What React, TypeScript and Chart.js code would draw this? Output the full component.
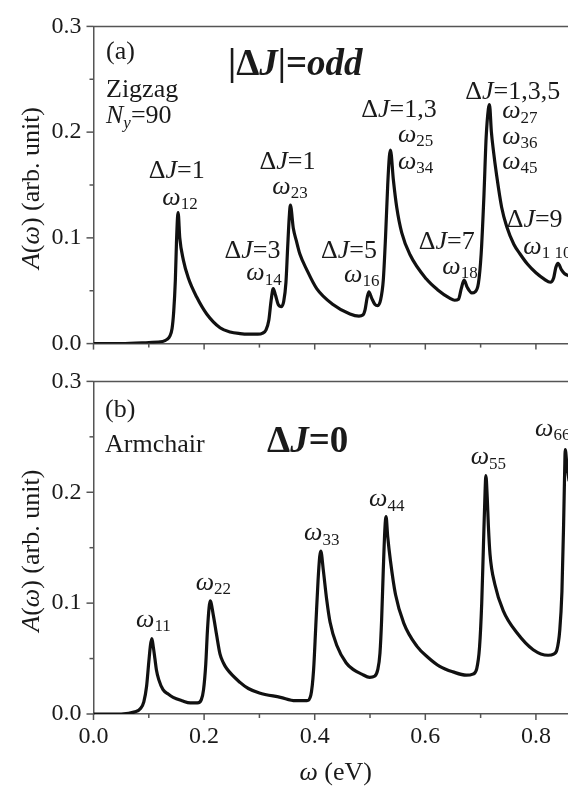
import React, { useEffect, useRef } from "react";
import { Chart, registerables } from "chart.js";
Chart.register(...registerables);

// ---------------- data ----------------
const X_MAX = 0.858;
const Y_MAX = 0.3;

const xMajorTicks = [0, 0.2, 0.4, 0.6, 0.8];
const xMinorTicks = [0.1, 0.3, 0.5, 0.7];
const yMajorTicks = [0, 0.1, 0.2, 0.3];
const yMinorTicks = [0.05, 0.15, 0.25];

// panel (a) zigzag, |ΔJ| = odd
const omegaA = [
  0.0, 0.05, 0.1, 0.125, 0.133, 0.138, 0.142, 0.145, 0.148, 0.15, 0.152, 0.153,
  0.156, 0.1625, 0.1715, 0.1866, 0.2047, 0.2288, 0.247, 0.265, 0.28,
  0.297, 0.306, 0.312, 0.317, 0.321, 0.325, 0.329, 0.334, 0.34, 0.344, 0.348, 0.351,
  0.354, 0.356, 0.3613, 0.3674, 0.373, 0.3855, 0.4036, 0.433, 0.4638,
  0.48, 0.487, 0.491, 0.495, 0.498, 0.503, 0.509, 0.514, 0.519, 0.524, 0.528,
  0.532, 0.535, 0.537, 0.5422, 0.5483, 0.5573, 0.5724, 0.602, 0.622, 0.644,
  0.653, 0.66, 0.665, 0.67, 0.676, 0.684, 0.69, 0.696, 0.701, 0.706, 0.71, 0.714,
  0.716, 0.7195, 0.723, 0.729, 0.738, 0.747, 0.76, 0.771, 0.785, 0.8, 0.815, 0.826,
  0.832, 0.836, 0.84, 0.846, 0.852, 0.86,
];
const valueA = [
  0.0, 0.0, 0.001, 0.002, 0.004, 0.007, 0.014, 0.03, 0.06, 0.095, 0.12, 0.124,
  0.1, 0.079, 0.062, 0.044, 0.028, 0.015, 0.011, 0.0095, 0.009,
  0.009, 0.01, 0.013, 0.022, 0.04, 0.052, 0.046, 0.037, 0.035, 0.04, 0.058, 0.09,
  0.12, 0.131, 0.109, 0.096, 0.085, 0.07, 0.052, 0.037, 0.028,
  0.026, 0.027, 0.032, 0.044, 0.049, 0.043, 0.037, 0.036, 0.041, 0.06, 0.1,
  0.15, 0.177, 0.183, 0.155, 0.129, 0.105, 0.084, 0.061, 0.051, 0.043,
  0.041, 0.042, 0.052, 0.06, 0.053, 0.048, 0.049, 0.057, 0.085, 0.14, 0.195, 0.222,
  0.226, 0.2, 0.183, 0.159, 0.129, 0.111, 0.094, 0.085, 0.075, 0.067, 0.061, 0.058,
  0.062, 0.072, 0.076, 0.07, 0.066, 0.064,
];

// panel (b) armchair, ΔJ = 0
const omegaB = [
  0.0, 0.05, 0.075, 0.085, 0.091, 0.096, 0.1, 0.103, 0.1055, 0.108, 0.111, 0.1137,
  0.118, 0.1257, 0.135, 0.144, 0.16, 0.175, 0.188, 0.195, 0.199, 0.203, 0.206, 0.209,
  0.211, 0.2167, 0.2227, 0.2288, 0.235, 0.2408, 0.2649, 0.28, 0.3, 0.338, 0.365, 0.386,
  0.393, 0.398, 0.402, 0.406, 0.409, 0.411, 0.4155, 0.4217, 0.4277, 0.4398, 0.457,
  0.47, 0.485, 0.4995, 0.508, 0.514, 0.518, 0.521, 0.524, 0.527, 0.529, 0.532, 0.537,
  0.546, 0.561, 0.585, 0.605, 0.626, 0.65, 0.674, 0.686, 0.693, 0.698, 0.702, 0.705,
  0.708, 0.7095, 0.712, 0.714, 0.717, 0.7257, 0.741, 0.766, 0.795, 0.822, 0.832, 0.838,
  0.843, 0.847, 0.85, 0.852, 0.853, 0.856, 0.86,
];
const valueB = [
  0.0, 0.0, 0.002, 0.005, 0.011, 0.025, 0.047, 0.062, 0.068, 0.061, 0.05, 0.04,
  0.031, 0.022, 0.018, 0.015, 0.012, 0.01, 0.01, 0.013, 0.022, 0.045, 0.075, 0.096,
  0.102, 0.089, 0.071, 0.054, 0.046, 0.041, 0.0285, 0.023, 0.019, 0.015, 0.012, 0.012,
  0.017, 0.04, 0.08, 0.12, 0.142, 0.147, 0.13, 0.103, 0.083, 0.062, 0.046,
  0.04, 0.036, 0.033, 0.034, 0.04, 0.055, 0.085, 0.13, 0.168, 0.178, 0.16, 0.138,
  0.108, 0.082, 0.061, 0.051, 0.043, 0.038, 0.035, 0.036, 0.041, 0.06, 0.1, 0.15,
  0.2, 0.215, 0.195, 0.17, 0.144, 0.117, 0.093, 0.073, 0.058, 0.053, 0.054, 0.058,
  0.075, 0.11, 0.17, 0.22, 0.2385, 0.225, 0.21,
];

// ---------------- text ----------------
type Run = { t: string; s?: "i" | "b" | "bi"; sub?: boolean };
type Note = { x: number; y: number; align: "left" | "center"; size: number; runs: Run[] };

const dJ = (rest: string): Run[] => [{ t: "Δ" }, { t: "J", s: "i" }, { t: "=" + rest }];
const om = (sub: string): Run[] => [{ t: "ω", s: "i" }, { t: sub, sub: true }];

const notesA: Note[] = [
  { x: 0.0226, y: 0.2689, align: "left", size: 26, runs: [{ t: "(a)" }] },
  { x: 0.0226, y: 0.2333, align: "left", size: 26, runs: [{ t: "Zigzag" }] },
  { x: 0.0226, y: 0.2084, align: "left", size: 26, runs: [{ t: "N", s: "i" }, { t: "y", s: "i", sub: true }, { t: "=90" }] },
  { x: 0.2432, y: 0.2538, align: "left", size: 37, runs: [{ t: "|Δ", s: "b" }, { t: "J", s: "bi" }, { t: "|=", s: "b" }, { t: "odd", s: "bi" }] },
  { x: 0.1504, y: 0.1569, align: "center", size: 26, runs: dJ("1") },
  { x: 0.1564, y: 0.1311, align: "center", size: 26, runs: om("12") },
  { x: 0.3508, y: 0.1652, align: "center", size: 26, runs: dJ("1") },
  { x: 0.3553, y: 0.1418, align: "center", size: 26, runs: om("23") },
  { x: 0.2875, y: 0.0807, align: "center", size: 26, runs: dJ("3") },
  { x: 0.3083, y: 0.060, align: "center", size: 26, runs: om("14") },
  { x: 0.462, y: 0.0807, align: "center", size: 26, runs: dJ("5") },
  { x: 0.485, y: 0.0585, align: "center", size: 26, runs: om("16") },
  { x: 0.6387, y: 0.0896, align: "center", size: 26, runs: dJ("7") },
  { x: 0.6627, y: 0.0662, align: "center", size: 26, runs: om("18") },
  { x: 0.7471, y: 0.1107, align: "left", size: 26, runs: dJ("9") },
  { x: 0.7772, y: 0.0852, align: "left", size: 26, runs: om("1 10") },
  { x: 0.5524, y: 0.214, align: "center", size: 26, runs: dJ("1,3") },
  { x: 0.5506, y: 0.1907, align: "left", size: 26, runs: om("25") },
  { x: 0.5506, y: 0.1652, align: "left", size: 26, runs: om("34") },
  { x: 0.6724, y: 0.2318, align: "left", size: 26, runs: dJ("1,3,5") },
  { x: 0.7391, y: 0.2129, align: "left", size: 26, runs: om("27") },
  { x: 0.7391, y: 0.1889, align: "left", size: 26, runs: om("36") },
  { x: 0.7391, y: 0.1652, align: "left", size: 26, runs: om("45") },
];

const notesB: Note[] = [
  { x: 0.0208, y: 0.2683, align: "left", size: 26, runs: [{ t: "(b)" }] },
  { x: 0.0208, y: 0.2365, align: "left", size: 26, runs: [{ t: "Armchair" }] },
  { x: 0.3137, y: 0.2365, align: "left", size: 37, runs: [{ t: "Δ", s: "b" }, { t: "J", s: "bi" }, { t: "=0", s: "b" }] },
  { x: 0.7984, y: 0.2507, align: "left", size: 26, runs: om("66") },
  { x: 0.714, y: 0.2251, align: "center", size: 26, runs: om("55") },
  { x: 0.5302, y: 0.1874, align: "center", size: 26, runs: om("44") },
  { x: 0.4127, y: 0.1565, align: "center", size: 26, runs: om("33") },
  { x: 0.2168, y: 0.1121, align: "center", size: 26, runs: om("22") },
  { x: 0.1083, y: 0.0786, align: "center", size: 26, runs: om("11") },
];

const yTitleRuns: Run[] = [{ t: "A", s: "i" }, { t: "(" }, { t: "ω", s: "i" }, { t: ") (arb. unit)" }];
const xTitleRuns: Run[] = [{ t: "ω", s: "i" }, { t: " (eV)" }];

// ---------------- styles ----------------
const FAMILY = '"Liberation Serif", "Times New Roman", serif';
const AXIS_COLOR = "#555";
const TEXT_COLOR = "#1a1a1a";
const LINE_COLOR = "#111";

function fontFor(r: Run, size: number) {
  const st = r.s === "i" ? "italic " : r.s === "b" ? "bold " : r.s === "bi" ? "italic bold " : "";
  const sz = r.sub ? Math.round(size * 0.64) : size;
  return `${st}${sz}px ${FAMILY}`;
}

function drawRuns(ctx: CanvasRenderingContext2D, runs: Run[], x: number, y: number, size: number, align: string) {
  let total = 0;
  const widths = runs.map((r) => {
    ctx.font = fontFor(r, size);
    const w = ctx.measureText(r.t).width;
    total += w;
    return w;
  });
  let cx = align === "center" ? x - total / 2 : x;
  ctx.textAlign = "left";
  ctx.textBaseline = "alphabetic";
  runs.forEach((r, i) => {
    ctx.font = fontFor(r, size);
    ctx.fillText(r.t, cx, r.sub ? y + size * 0.17 : y);
    cx += widths[i];
  });
}

const panelPlugin = {
  id: "panelDeco",
  afterDatasetsDraw(chart: any, _args: any, opts: any) {
    const { ctx, scales } = chart;
    ctx.save();
    ctx.fillStyle = TEXT_COLOR;
    (opts.notes as Note[]).forEach((n) => {
      drawRuns(ctx, n.runs, scales.x.getPixelForValue(n.x), scales.y.getPixelForValue(n.y), n.size, n.align);
    });
    ctx.restore();
  },
  afterDraw(chart: any, _args: any, opts: any) {
    const { ctx, chartArea, scales } = chart;
    const { left, top, bottom, right } = chartArea;
    ctx.save();
    ctx.strokeStyle = AXIS_COLOR;
    ctx.lineWidth = 1.5;
    ctx.beginPath();
    ctx.moveTo(left, top);
    ctx.lineTo(chart.width, top);
    ctx.stroke();
    const tick = (x1: number, y1: number, x2: number, y2: number) => {
      ctx.beginPath();
      ctx.moveTo(x1, y1);
      ctx.lineTo(x2, y2);
      ctx.stroke();
    };
    xMajorTicks.forEach((v) => { const p = scales.x.getPixelForValue(v); tick(p, bottom, p, bottom + 6); });
    xMinorTicks.forEach((v) => { const p = scales.x.getPixelForValue(v); tick(p, bottom, p, bottom + 4); });
    yMajorTicks.forEach((v) => { const p = scales.y.getPixelForValue(v); tick(left, p, left - 7, p); });
    yMinorTicks.forEach((v) => { const p = scales.y.getPixelForValue(v); tick(left, p, left - 4, p); });
    // axis titles
    ctx.fillStyle = TEXT_COLOR;
    ctx.save();
    ctx.translate(39, (top + bottom) / 2 + 3);
    ctx.rotate(-Math.PI / 2);
    drawRuns(ctx, yTitleRuns, 0, 0, 26, "center");
    ctx.restore();
    if (opts.xTitle) {
      drawRuns(ctx, xTitleRuns, (left + right) / 2 + 5, bottom + 66, 26, "center");
    }
    ctx.restore();
  },
};

function buildConfig(isA: boolean): any {
  const xs = isA ? omegaA : omegaB;
  const ys = isA ? valueA : valueB;
  return {
    type: "line",
    data: {
      datasets: [
        {
          data: xs.map((x, i) => ({ x, y: ys[i] })),
          borderColor: LINE_COLOR,
          borderWidth: 3.2,
          pointRadius: 0,
          cubicInterpolationMode: "monotone",
          fill: false,
        },
      ],
    },
    options: {
      responsive: false,
      maintainAspectRatio: false,
      animation: false,
      devicePixelRatio: 1,
      layout: { padding: { top: isA ? 15 : 19, left: 0, right: 0, bottom: 0 } },
      plugins: {
        legend: { display: false },
        tooltip: { enabled: false },
        panelDeco: { notes: isA ? notesA : notesB, xTitle: !isA },
      },
      scales: {
        x: {
          type: "linear",
          min: 0,
          max: X_MAX,
          grid: { display: false, drawTicks: false },
          border: { display: true, color: AXIS_COLOR, width: 1.5 },
          afterBuildTicks: (s: any) => { s.ticks = xMajorTicks.map((v) => ({ value: v })); },
          ticks: {
            display: !isA,
            callback: (v: number) => v.toFixed(1),
            font: { family: FAMILY, size: 24 },
            color: TEXT_COLOR,
            padding: 8,
            maxRotation: 0,
          },
          afterFit: (s: any) => { s.height = isA ? 17.5 : 75; },
        },
        y: {
          type: "linear",
          min: 0,
          max: Y_MAX,
          grid: { display: false, drawTicks: false },
          border: { display: true, color: AXIS_COLOR, width: 1.5 },
          afterBuildTicks: (s: any) => { s.ticks = yMajorTicks.map((v) => ({ value: v })); },
          ticks: {
            callback: (v: number) => v.toFixed(1),
            font: { family: FAMILY, size: 24 },
            color: TEXT_COLOR,
            padding: 12,
          },
          afterFit: (s: any) => { s.width = 93.5; },
        },
      },
    },
    plugins: [panelPlugin],
  };
}

export default function App() {
  const refA = useRef<HTMLCanvasElement>(null);
  const refB = useRef<HTMLCanvasElement>(null);
  useEffect(() => {
    const a = new Chart(refA.current as HTMLCanvasElement, buildConfig(true));
    const b = new Chart(refB.current as HTMLCanvasElement, buildConfig(false));
    return () => {
      a.destroy();
      b.destroy();
    };
  }, []);
  return (
    <div style={{ position: "absolute", left: 0, top: 0, width: 568, height: 789, background: "#fff", overflow: "hidden" }}>
      <canvas ref={refA} width={568} height={370} style={{ position: "absolute", left: 0, top: 0 }} />
      <canvas ref={refB} width={568} height={434} style={{ position: "absolute", left: 0, top: 355 }} />
    </div>
  );
}
